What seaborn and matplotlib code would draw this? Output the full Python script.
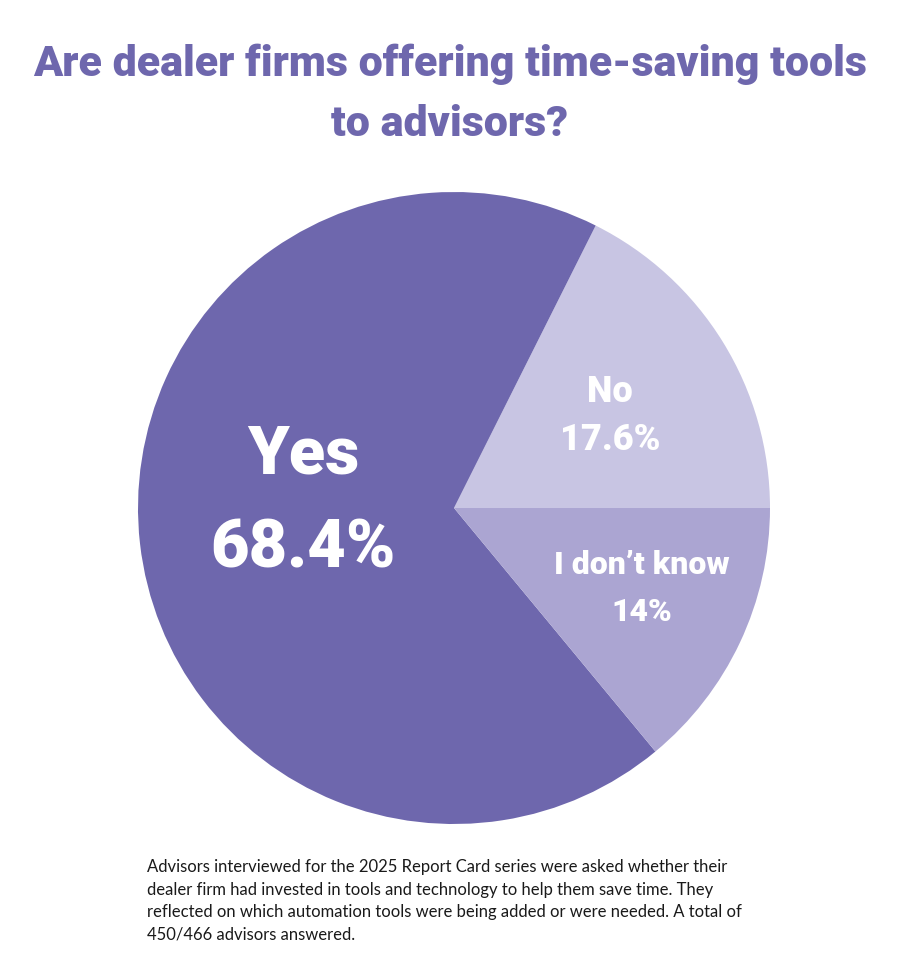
import matplotlib
matplotlib.use('Agg')
import matplotlib.pyplot as plt
import seaborn as sns

# slices, counterclockwise from 3 o'clock
labels = ['No', 'Yes', "I don\u2019t know"]
shares = [17.6, 68.4, 14.0]
pct_labels = ['17.6%', '68.4%', '14%']
colors = ['#C8C5E3', '#6E67AD', '#ABA5D2']

TITLE = "Are dealer firms offering time-saving tools\nto advisors?"
NOTE = ("Advisors interviewed for the 2025 Report Card series were asked whether their\n"
        "dealer firm had invested in tools and technology to help them save time. They\n"
        "reflected on which automation tools were being added or were needed. A total of\n"
        "450/466 advisors answered.")

sns.set_theme(style='white')
plt.rcParams['font.family'] = ['Roboto', 'DejaVu Sans']

fig = plt.figure(figsize=(9, 9.61), dpi=100, facecolor='white')
W, H = 900, 961

def fx(x): return x / W
def fy(y): return 1 - y / H

ax = fig.add_axes([fx(138), fy(824), 632 / W, 632 / H])
ax.pie(shares, colors=colors, startangle=0, counterclock=True, radius=1,
       wedgeprops=dict(linewidth=0))
ax.set_xlim(-1, 1)
ax.set_ylim(-1, 1)
ax.set_aspect('equal')
ax.axis('off')

title_color = '#6E67AD'
fig.text(0.5, fy(94), TITLE, ha='center', va='center', fontsize=31, fontweight='heavy',
         color=title_color, linespacing=1.6)

# slice labels
lab_pos = {'Yes': (303, 455, 303, 550, 48), 'No': (610, 392, 610, 440, 26),
           "I don\u2019t know": (642, 565, 642, 612, 23)}
for name, pct in zip(labels, pct_labels):
    x1, y1, x2, y2, fs = lab_pos[name]
    fig.text(fx(x1), fy(y1), name, ha='center', va='center', fontsize=fs,
             fontweight='heavy', color='white')
    fig.text(fx(x2), fy(y2), pct, ha='center', va='center', fontsize=fs,
             fontweight='heavy', color='white')

fig.text(fx(147), fy(859), NOTE, ha='left', va='top', fontsize=12, color='#1a1a1a',
         linespacing=1.5, family=['Lato', 'DejaVu Sans'])

fig.savefig('out.png', dpi=100, facecolor='white')
